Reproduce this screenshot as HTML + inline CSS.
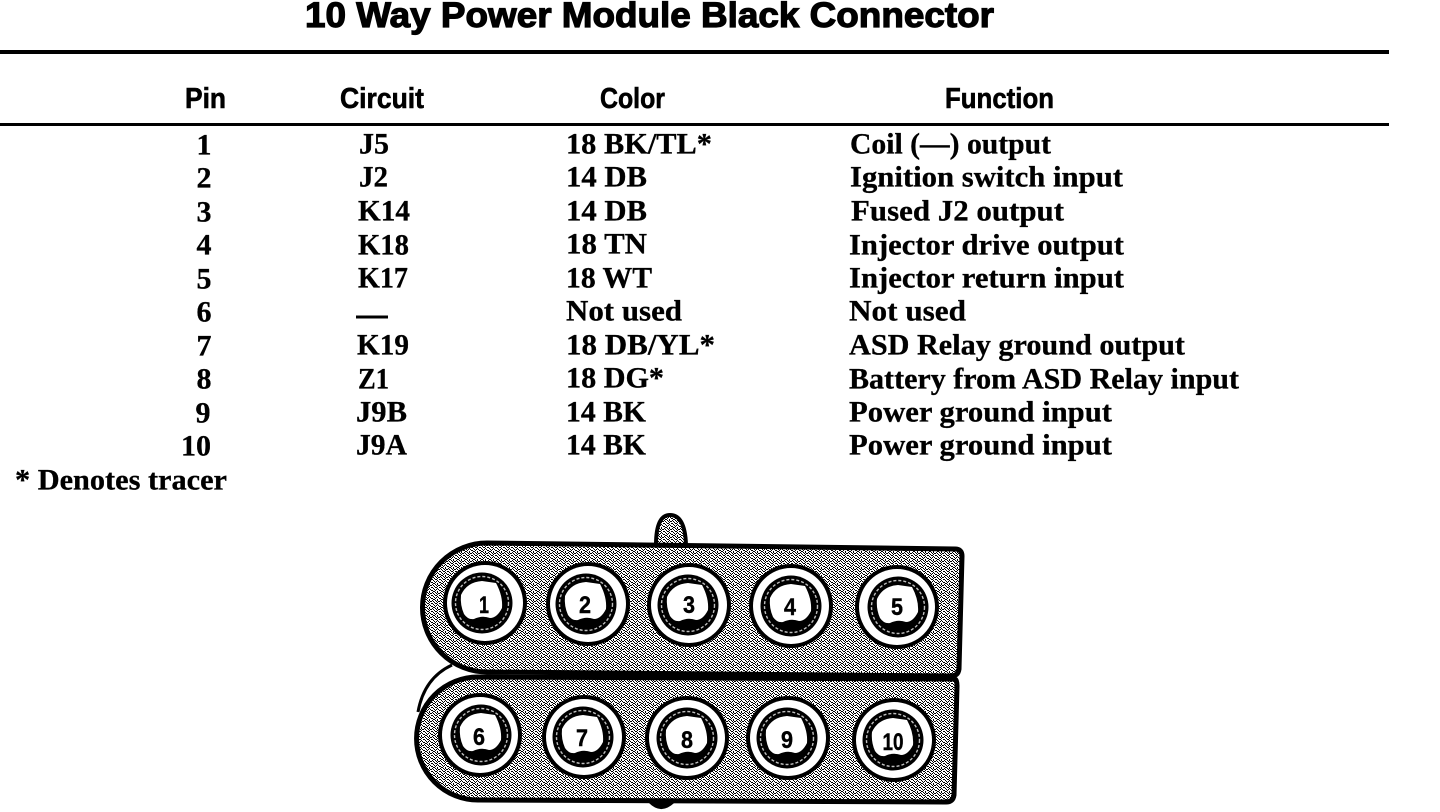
<!DOCTYPE html>
<html lang="en">
<head>
<meta charset="utf-8">
<title>10 Way Power Module Black Connector</title>
<style>
html,body{margin:0;padding:0;background:#fff}
svg{display:block}
.t{font-family:"Liberation Serif",serif;font-weight:700;font-size:30px;fill:#000;stroke:#000;stroke-width:.3px}
.h{font-family:"Liberation Sans",sans-serif;font-weight:700;font-size:29px;fill:#000;stroke:#000;stroke-width:.6px}
.ti{font-family:"Liberation Sans",sans-serif;font-weight:700;font-size:35px;fill:#000;stroke:#000;stroke-width:1.2px}
.n{font-family:"Liberation Sans",sans-serif;font-weight:700;font-size:24px;fill:#000;stroke:#000;stroke-width:.4px;text-anchor:middle}
.p{text-anchor:middle}
</style>
</head>
<body>
<svg xmlns="http://www.w3.org/2000/svg" width="1440" height="812" viewBox="0 0 1440 812">
<defs>
<pattern id="d" width="8" height="8" patternUnits="userSpaceOnUse">
<rect width="8" height="8" fill="#fff"/>
<path shape-rendering="crispEdges" fill="#000" d="M0 0h1v1H0zM3 0h1v1H3zM5 0h1v1H5zM1 1h1v1H1zM4 1h1v1H4zM6 1h2v1H6zM2 2h1v1H2zM5 2h1v1H5zM0 3h1v1H0zM3 3h2v1H3zM7 3h1v1H7zM1 4h1v1H1zM5 4h1v1H5zM2 5h1v1H2zM4 5h1v1H4zM6 5h1v1H6zM0 6h1v1H0zM3 6h1v1H3zM7 6h1v1H7zM1 7h2v1H1zM5 7h1v1H5z"/>
</pattern>
<g id="o">
<circle r="42" fill="#000"/>
<circle r="38" fill="#fff"/>
</g>
<g id="i">
<circle r="30.5" fill="#000"/>
<circle r="26.5" fill="none" stroke="#c0c0c0" stroke-width="1.4" stroke-dasharray="3 2"/>
<path fill="#fff" d="M-21,-8 Q-15,-21 0,-22 L14,-20 Q21,-7 20,5 Q15,15 8,15 Q0,12 -8,16 Q-14,17 -18,11 Q-22,2 -21,-8Z"/>
</g>
</defs>

<rect width="1440" height="812" fill="#fff"/>

<text class="ti" x="305" y="27" textLength="689" lengthAdjust="spacingAndGlyphs">10 Way Power Module Black Connector</text>
<rect x="0" y="50" width="1389" height="4" fill="#000"/>
<rect x="0" y="123" width="1389" height="3" fill="#000"/>

<text class="h" x="185" y="108" textLength="41" lengthAdjust="spacingAndGlyphs">Pin</text>
<text class="h" x="340" y="108" textLength="84" lengthAdjust="spacingAndGlyphs">Circuit</text>
<text class="h" x="600" y="108" textLength="65" lengthAdjust="spacingAndGlyphs">Color</text>
<text class="h" x="945" y="108" textLength="109" lengthAdjust="spacingAndGlyphs">Function</text>

<g transform="translate(0,.5)">
<text class="t p" x="204" y="154">1</text>
<text class="t p" x="204" y="187">2</text>
<text class="t p" x="204" y="221">3</text>
<text class="t p" x="204" y="254">4</text>
<text class="t p" x="204" y="288">5</text>
<text class="t p" x="204" y="321">6</text>
<text class="t p" x="204" y="355">7</text>
<text class="t p" x="204" y="388">8</text>
<text class="t p" x="203" y="422">9</text>
<text class="t p" x="196" y="455">10</text>

<text class="t" x="359" y="153" textLength="30" lengthAdjust="spacingAndGlyphs">J5</text>
<text class="t" x="359" y="186" textLength="29" lengthAdjust="spacingAndGlyphs">J2</text>
<text class="t" x="358" y="220" textLength="52" lengthAdjust="spacingAndGlyphs">K14</text>
<text class="t" x="358" y="254" textLength="51" lengthAdjust="spacingAndGlyphs">K18</text>
<text class="t" x="358" y="287" textLength="50" lengthAdjust="spacingAndGlyphs">K17</text>
<rect x="356" y="315" width="32" height="3" fill="#000"/>
<text class="t" x="357" y="354" textLength="52" lengthAdjust="spacingAndGlyphs">K19</text>
<text class="t" x="358" y="388" textLength="31" lengthAdjust="spacingAndGlyphs">Z1</text>
<text class="t" x="356" y="421" textLength="51" lengthAdjust="spacingAndGlyphs">J9B</text>
<text class="t" x="356" y="454" textLength="51" lengthAdjust="spacingAndGlyphs">J9A</text>

<text class="t" x="566" y="153" textLength="146" lengthAdjust="spacingAndGlyphs">18 BK/TL*</text>
<text class="t" x="566" y="186" textLength="81" lengthAdjust="spacingAndGlyphs">14 DB</text>
<text class="t" x="566" y="220" textLength="81" lengthAdjust="spacingAndGlyphs">14 DB</text>
<text class="t" x="566" y="253" textLength="81" lengthAdjust="spacingAndGlyphs">18 TN</text>
<text class="t" x="566" y="287" textLength="86" lengthAdjust="spacingAndGlyphs">18 WT</text>
<text class="t" x="566" y="320" textLength="116" lengthAdjust="spacingAndGlyphs">Not used</text>
<text class="t" x="566" y="354" textLength="149" lengthAdjust="spacingAndGlyphs">18 DB/YL*</text>
<text class="t" x="566" y="387" textLength="98" lengthAdjust="spacingAndGlyphs">18 DG*</text>
<text class="t" x="566" y="421" textLength="80" lengthAdjust="spacingAndGlyphs">14 BK</text>
<text class="t" x="566" y="454" textLength="80" lengthAdjust="spacingAndGlyphs">14 BK</text>

<text class="t" x="850" y="153" textLength="201" lengthAdjust="spacingAndGlyphs">Coil (—) output</text>
<text class="t" x="850" y="186" textLength="273" lengthAdjust="spacingAndGlyphs">Ignition switch input</text>
<text class="t" x="851" y="220" textLength="213" lengthAdjust="spacingAndGlyphs">Fused J2 output</text>
<text class="t" x="849" y="254" textLength="275" lengthAdjust="spacingAndGlyphs">Injector drive output</text>
<text class="t" x="849" y="287" textLength="275" lengthAdjust="spacingAndGlyphs">Injector return input</text>
<text class="t" x="849" y="320" textLength="117" lengthAdjust="spacingAndGlyphs">Not used</text>
<text class="t" x="849" y="354" textLength="336" lengthAdjust="spacingAndGlyphs">ASD Relay ground output</text>
<text class="t" x="849" y="388" textLength="390" lengthAdjust="spacingAndGlyphs">Battery from ASD Relay input</text>
<text class="t" x="849" y="421" textLength="263" lengthAdjust="spacingAndGlyphs">Power ground input</text>
<text class="t" x="849" y="454" textLength="263" lengthAdjust="spacingAndGlyphs">Power ground input</text>

<text class="t" x="15" y="489" textLength="212" lengthAdjust="spacingAndGlyphs">* Denotes tracer</text>
</g>

<!-- connector -->
<path d="M656,545 Q656,515 670,515 Q685,515 686,545Z" fill="url(#d)" stroke="#000" stroke-width="4"/>
<path d="M650,802 Q661,813 673,802Z" fill="#000" stroke="#000" stroke-width="3"/>
<path d="M452,665 Q424,678 418,712" fill="none" stroke="#000" stroke-width="3"/>

<path d="M478,677 L955,679 Q957,680 957,686 L954,795 Q953,802 946,802 L478,800 A61.5,61.5 0 0 1 478,677Z" fill="url(#d)" stroke="#000" stroke-width="5"/>
<path d="M487,543 L955,549 Q962,549 962,556 L959,669 Q958,676 951,676 L487,672 A64.5,64.5 0 0 1 487,543Z" fill="url(#d)" stroke="#000" stroke-width="5"/>

<use href="#o" x="485" y="603"/><use href="#i" x="482" y="603"/>
<use href="#o" x="588" y="604"/><use href="#i" x="586" y="604"/>
<use href="#o" x="689" y="605"/><use href="#i" x="688" y="605"/>
<use href="#o" x="791" y="606"/><use href="#i" x="791" y="606"/>
<use href="#o" x="897" y="607"/><use href="#i" x="898" y="607"/>
<use href="#o" x="480" y="735"/><use href="#i" x="481" y="735"/>
<use href="#o" x="584" y="737"/><use href="#i" x="583" y="737"/>
<use href="#o" x="687" y="738"/><use href="#i" x="687" y="738"/>
<use href="#o" x="788" y="738"/><use href="#i" x="787" y="738"/>
<use href="#o" x="894" y="740"/><use href="#i" x="893" y="740"/>

<text class="n" x="484" y="613" textLength="10" lengthAdjust="spacingAndGlyphs">1</text>
<text class="n" x="585" y="613" textLength="12" lengthAdjust="spacingAndGlyphs">2</text>
<text class="n" x="689" y="613" textLength="12" lengthAdjust="spacingAndGlyphs">3</text>
<text class="n" x="790" y="615" textLength="12" lengthAdjust="spacingAndGlyphs">4</text>
<text class="n" x="897" y="615" textLength="12" lengthAdjust="spacingAndGlyphs">5</text>
<text class="n" x="479" y="745" textLength="12" lengthAdjust="spacingAndGlyphs">6</text>
<text class="n" x="582" y="746" textLength="12" lengthAdjust="spacingAndGlyphs">7</text>
<text class="n" x="687" y="748" textLength="12" lengthAdjust="spacingAndGlyphs">8</text>
<text class="n" x="787" y="748" textLength="12" lengthAdjust="spacingAndGlyphs">9</text>
<text class="n" x="893" y="750" textLength="21" lengthAdjust="spacingAndGlyphs">10</text>
</svg>
</body>
</html>
